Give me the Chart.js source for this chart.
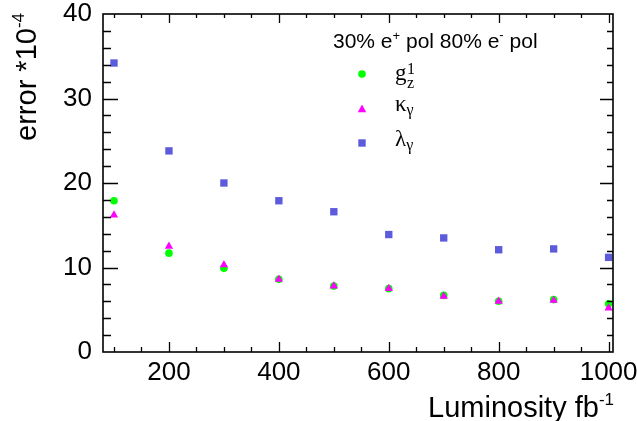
<!DOCTYPE html>
<html>
<head>
<meta charset="utf-8">
<script src="https://cdn.jsdelivr.net/npm/chart.js@4.4.1/dist/chart.umd.min.js"></script>
<style>
  html, body { margin: 0; padding: 0; background: #fff; }
  #wrap { width: 637px; height: 421px; }
</style>
</head>
<body>
<div id="wrap"><canvas id="errChart" width="637" height="421"></canvas></div>
<script>
// luminosity points (fb^-1)
const luminosity = [100, 200, 300, 400, 500, 600, 700, 800, 900, 1000];
// errors in units of 1e-4
const gz1Err = [17.9, 11.7, 9.9, 8.6, 7.8, 7.5, 6.7, 6.0, 6.2, 5.7];
const kappaErr = [16.2, 12.5, 10.3, 8.6, 7.8, 7.5, 6.6, 6.0, 6.1, 5.2];
const lambdaErr = [34.2, 23.8, 20.0, 17.9, 16.6, 13.9, 13.5, 12.1, 12.2, 11.2];

const xTickLabels = [200, 400, 600, 800, 1000];
const yTickLabels = [0, 10, 20, 30, 40];

const SANS = "'Liberation Sans', Arial, Helvetica, sans-serif";
const SERIF = "'Liberation Serif', 'Times New Roman', serif";

const GREEN = '#00ff00';
const MAGENTA = '#ff00ff';
const BLUE = '#5b5bdc';

function pts(ys) {
  return luminosity.map((x, i) => ({ x: x, y: ys[i] }));
}

// draw text pieces: [text, font, dy]
function drawRuns(ctx, runs, x, y) {
  runs.forEach(r => {
    ctx.font = r[1];
    ctx.fillText(r[0], x, y + (r[2] || 0));
    x += ctx.measureText(r[0]).width;
  });
  return x;
}
function runsWidth(ctx, runs) {
  let w = 0;
  runs.forEach(r => { ctx.font = r[1]; w += ctx.measureText(r[0]).width; });
  return w;
}

function marker(ctx, type, x, y, color) {
  ctx.save();
  ctx.fillStyle = color;
  ctx.beginPath();
  if (type === 'circle') {
    ctx.arc(x, y, 3.8, 0, Math.PI * 2);
  } else if (type === 'triangle') {
    ctx.moveTo(x, y - 4.5);
    ctx.lineTo(x + 4.2, y + 3.2);
    ctx.lineTo(x - 4.2, y + 3.2);
    ctx.closePath();
  } else {
    ctx.rect(x - 3.7, y - 3.7, 7.4, 7.4);
  }
  ctx.fill();
  ctx.restore();
}

// frame with inward ticks, axis titles and legend box
const rootStyle = {
  id: 'rootStyle',
  afterDatasetsDraw(chart) {
    const ctx = chart.ctx;
    const a = chart.chartArea;
    const xs = chart.scales.x;
    const ys = chart.scales.y;
    ctx.save();
    ctx.strokeStyle = '#000';
    ctx.lineWidth = 1.6;
    ctx.strokeRect(a.left, a.top, a.right - a.left, a.bottom - a.top);

    ctx.lineWidth = 1.3;
    ctx.beginPath();
    for (let v = 100; v <= 1000; v += 50) {
      const px = Math.round(xs.getPixelForValue(v)) + 0.5;
      const len = v % 200 === 0 ? 10 : 5;
      ctx.moveTo(px, a.bottom); ctx.lineTo(px, a.bottom - len);
      ctx.moveTo(px, a.top); ctx.lineTo(px, a.top + len - 1);
    }
    for (let v = 2; v < 40; v += 2) {
      const py = Math.round(ys.getPixelForValue(v)) + 0.5;
      const len = v % 10 === 0 ? 15 : 8;
      ctx.moveTo(a.left, py); ctx.lineTo(a.left + len, py);
      ctx.moveTo(a.right, py); ctx.lineTo(a.right - len + 2, py);
    }
    ctx.stroke();

    ctx.fillStyle = '#000';
    ctx.textBaseline = 'alphabetic';
    ctx.textAlign = 'left';

    // x title
    const big = '29px ' + SANS;
    const sup = '17px ' + SANS;
    const xRuns = [['Luminosity fb', big, 0], ['-1', sup, -12]];
    drawRuns(ctx, xRuns, a.right - runsWidth(ctx, xRuns) + 1, 417);

    // y title
    const yRuns = [['error *10', big, 0], ['-4', sup, -12]];
    ctx.save();
    ctx.translate(36, 13 + runsWidth(ctx, yRuns));
    ctx.rotate(-Math.PI / 2);
    drawRuns(ctx, yRuns, 0, 0);
    ctx.restore();

    // legend header
    const hf = '21px ' + SANS;
    const hs = '13px ' + SANS;
    drawRuns(ctx, [
      ['30% e', hf, 0], ['+', hs, -8], [' pol 80% e', hf, 0], ['-', hs, -9], [' pol', hf, 0]
    ], 333, 48);

    // legend entries
    const gf = '23px ' + SERIF;
    const gs = '16px ' + SERIF;
    marker(ctx, 'circle', 362, 74, GREEN);
    ctx.font = gf; ctx.fillText('g', 395, 80);
    ctx.font = gs; ctx.fillText('1', 407, 74); ctx.fillText('z', 407, 88);
    marker(ctx, 'triangle', 362, 109, MAGENTA);
    drawRuns(ctx, [['\u03ba', gf, 0], ['\u03b3', gs, 4]], 395, 111);
    marker(ctx, 'rect', 362, 143, BLUE);
    drawRuns(ctx, [['\u03bb', gf, 0], ['\u03b3', gs, 4]], 395, 146);
    ctx.restore();
  }
};

new Chart(document.getElementById('errChart'), {
  type: 'scatter',
  data: {
    datasets: [
      { label: 'kappa', data: pts(kappaErr), order: 0, pointStyle: 'triangle',
        pointRadius: 4.8, backgroundColor: MAGENTA, borderWidth: 0 },
      { label: 'g1z', data: pts(gz1Err), order: 1, pointStyle: 'circle',
        pointRadius: 3.8, backgroundColor: GREEN, borderWidth: 0 },
      { label: 'lambda', data: pts(lambdaErr), order: 2, pointStyle: 'rect',
        pointRadius: 5.2, backgroundColor: BLUE, borderWidth: 0 }
    ]
  },
  options: {
    responsive: false,
    animation: false,
    layout: { padding: { top: 14, right: 24, left: 0, bottom: 0 } },
    plugins: { legend: { display: false }, tooltip: { enabled: false } },
    scales: {
      x: {
        type: 'linear', min: 80, max: 1008,
        afterBuildTicks: s => { s.ticks = xTickLabels.map(v => ({ value: v })); },
        afterFit: s => { s.height = 69; s.paddingLeft = 0; s.paddingRight = 0; },
        grid: { display: false, drawTicks: false },
        border: { display: false },
        ticks: { color: '#000', padding: 5, maxRotation: 0, font: { family: SANS, size: 26 },
          callback: v => String(v) }
      },
      y: {
        type: 'linear', min: 0, max: 40,
        afterBuildTicks: s => { s.ticks = yTickLabels.map(v => ({ value: v })); },
        afterFit: s => { s.width = 103; s.paddingTop = 0; s.paddingBottom = 0; },
        grid: { display: false, drawTicks: false },
        border: { display: false },
        ticks: { color: '#000', padding: 11, font: { family: SANS, size: 26 },
          callback: v => String(v) }
      }
    }
  },
  plugins: [rootStyle]
});
</script>
</body>
</html>
